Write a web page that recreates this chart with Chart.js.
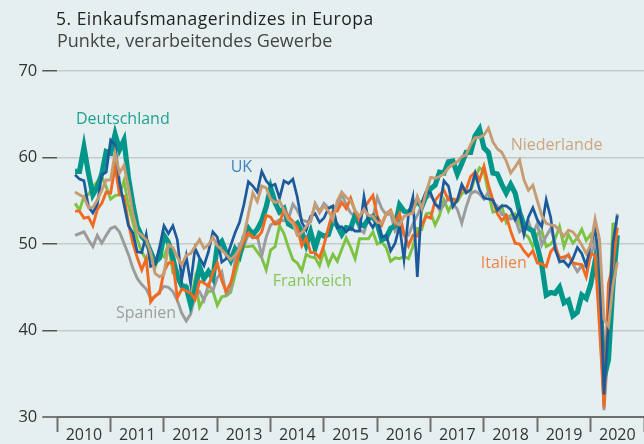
<!DOCTYPE html>
<html lang="de">
<head>
<meta charset="utf-8">
<script src="https://cdn.jsdelivr.net/npm/chart.js@4.4.1/dist/chart.umd.min.js"></script>
<style>
html, body { margin: 0; padding: 0; background: #e6eff0; }
#wrap { position: relative; width: 644px; height: 444px; overflow: hidden; font-family: "Open Sans", sans-serif; }
#title { position: absolute; left: 56px; top: 6px; font-size: 17.5px; letter-spacing: 0.5px; color: #222; white-space: nowrap; }
#sub { position: absolute; left: 57px; top: 28px; font-size: 18px; color: #444; white-space: nowrap; }
#pmi { position: absolute; left: 0; top: 0; }
</style>
</head>
<body>
<div id="wrap">
  <canvas id="pmi" width="644" height="444"></canvas>
  <div id="title">5. Einkaufsmanagerindizes in Europa</div>
  <div id="sub">Punkte, verarbeitendes Gewerbe</div>
</div>
<script>
// Monatswerte Mai 2010 bis Juli 2020
var startYear = 2010;
var startMonth = 4; // Mai (0 = Januar)

var deutschland = [
  58.4, 58.4, 61.2, 58.2, 55.7, 56.6, 58.1, 60.7,
  60.5, 62.7, 60.9, 62.0, 57.7, 54.6, 52.0, 50.9, 50.3, 49.1, 47.9, 48.4,
  51.0, 50.2, 48.4, 46.2, 45.2, 45.0, 43.0, 44.7, 47.4, 46.0, 46.8, 46.0,
  49.8, 50.3, 49.0, 48.1, 49.4, 48.6, 50.7, 51.8, 51.1, 51.7, 52.7, 54.3,
  56.5, 54.8, 53.7, 54.1, 52.3, 52.0, 52.4, 51.4, 49.9, 51.4, 49.5, 51.2,
  50.9, 51.1, 52.8, 52.1, 51.1, 51.9, 51.8, 53.3, 52.3, 52.1, 52.9, 53.2,
  52.3, 50.5, 50.7, 51.8, 52.1, 54.5, 53.8, 53.6, 54.3, 55.0, 54.3, 55.6,
  56.4, 56.8, 58.3, 58.2, 59.5, 59.6, 58.1, 59.3, 60.6, 60.6, 62.5, 63.3,
  61.1, 60.6, 58.2, 58.1, 56.9, 55.9, 56.9, 55.9, 53.7, 52.2, 51.8, 51.5,
  49.7, 47.6, 44.1, 44.4, 44.3, 45.0, 43.2, 43.5, 41.7, 42.1, 44.1, 43.7,
  45.3, 48.0, 45.4, 34.5, 36.6, 45.2, 51.0
];

var uk = [
  58.0, 57.5, 57.3, 54.3, 53.6, 54.6, 58.0, 58.3,
  62.0, 61.5, 57.1, 54.6, 52.1, 51.3, 49.1, 49.0, 51.1, 47.4, 47.6, 49.6,
  52.1, 51.2, 52.1, 50.5, 45.9, 48.6, 45.4, 49.5, 48.4, 47.5, 49.1, 51.4,
  50.8, 47.9, 48.3, 49.8, 51.3, 52.5, 54.6, 57.2, 56.7, 56.0, 58.4, 57.3,
  56.7, 56.9, 55.3, 57.3, 57.0, 57.5, 55.4, 52.5, 51.6, 53.2, 53.5, 52.5,
  53.0, 54.1, 54.4, 51.9, 52.0, 51.4, 51.9, 51.5, 51.5, 55.5, 52.7, 51.9,
  52.9, 50.8, 51.0, 49.2, 50.1, 52.1, 48.2, 53.3, 55.4, 46.2, 54.8, 56.1,
  55.9, 54.6, 54.2, 57.3, 56.7, 54.3, 55.1, 56.9, 55.9, 56.3, 58.2, 56.3,
  55.3, 55.2, 55.1, 53.9, 54.4, 54.4, 54.0, 52.8, 53.8, 51.1, 53.1, 54.2,
  52.8, 52.0, 55.1, 53.1, 49.4, 48.0, 48.0, 47.4, 48.3, 49.6, 48.9, 47.5,
  50.0, 51.7, 47.8, 32.6, 40.7, 50.1, 53.3
];

var niederlande = [
  56.0, 55.7, 55.4, 54.2, 54.2, 55.1, 56.2, 57.4,
  57.4, 60.5, 58.2, 59.1, 56.5, 53.5, 51.4, 51.0, 50.5, 49.0, 46.6, 46.2,
  46.5, 49.9, 49.6, 48.5, 47.6, 48.7, 48.9, 49.7, 50.5, 49.5, 49.9, 50.8,
  49.8, 49.3, 48.8, 48.2, 48.7, 49.5, 51.0, 53.5, 55.9, 54.9, 56.7, 56.5,
  55.2, 54.8, 55.0, 53.9, 52.8, 52.4, 51.0, 51.3, 52.0, 52.8, 54.5, 53.6,
  54.4, 53.8, 52.8, 55.0, 56.0, 55.4, 55.0, 53.9, 53.2, 54.0, 53.3, 53.2,
  52.5, 52.4, 53.5, 53.8, 52.5, 52.2, 53.2, 53.4, 53.6, 55.5, 54.1, 56.0,
  57.7, 57.6, 57.8, 58.1, 58.8, 59.2, 59.5, 60.1, 60.3, 61.5, 62.3, 62.3,
  62.6, 63.4, 61.8, 61.0, 60.6, 59.6, 58.2, 58.9, 59.7, 57.4, 56.2, 56.8,
  55.0, 53.3, 52.4, 52.2, 52.1, 51.5, 50.9, 51.6, 51.4, 50.7, 49.9, 48.9,
  49.9, 52.9, 50.5, 41.3, 40.5, 45.2, 47.9
];

var italien = [
  53.8, 53.8, 53.0, 53.1, 52.1, 54.0, 54.7, 56.0,
  55.9, 59.0, 55.7, 55.5, 52.4, 50.1, 48.4, 47.0, 48.3, 43.3, 44.0, 44.3,
  46.8, 47.8, 47.9, 43.8, 44.8, 44.6, 44.3, 43.6, 45.7, 45.5, 45.1, 46.7,
  47.8, 45.8, 44.5, 45.5, 47.3, 49.1, 50.4, 51.3, 50.8, 50.7, 51.4, 53.3,
  53.1, 52.3, 52.4, 54.0, 53.2, 52.6, 51.9, 49.8, 50.7, 49.0, 49.0, 48.4,
  49.9, 51.9, 53.8, 53.8, 54.8, 54.1, 55.3, 53.8, 52.7, 54.1, 54.9, 55.6,
  53.2, 52.2, 53.5, 53.9, 52.4, 53.5, 51.2, 49.8, 51.0, 50.9, 52.2, 53.2,
  53.0, 55.0, 55.7, 56.2, 55.1, 55.2, 55.1, 56.3, 56.3, 57.8, 58.3, 57.4,
  59.0, 56.8, 55.1, 53.5, 52.7, 53.3, 51.5, 50.1, 50.0, 49.2, 48.6, 49.2,
  47.8, 47.7, 47.4, 49.1, 49.7, 48.4, 48.5, 48.7, 47.8, 47.7, 47.6, 46.2,
  48.9, 48.7, 40.3, 31.1, 45.4, 47.5, 51.9
];

var frankreich = [
  54.7, 53.9, 55.5, 55.7, 56.6, 57.2, 57.8, 56.6,
  55.2, 55.6, 55.7, 57.3, 54.5, 52.5, 50.5, 49.1, 48.2, 48.5, 47.3, 48.9,
  48.5, 50.0, 46.7, 46.9, 44.7, 45.2, 43.4, 46.0, 42.7, 43.7, 44.5, 44.6,
  42.9, 43.9, 44.0, 44.4, 46.4, 48.4, 49.7, 49.7, 49.8, 49.1, 48.4, 47.0,
  49.3, 49.7, 52.1, 51.2, 49.6, 48.2, 47.8, 46.9, 48.8, 48.5, 48.4, 47.5,
  49.2, 47.6, 48.8, 48.0, 49.4, 50.7, 49.6, 48.3, 50.6, 50.6, 50.6, 51.4,
  50.0, 50.2, 49.6, 48.0, 48.4, 48.3, 48.6, 48.3, 49.7, 51.8, 51.7, 53.5,
  53.6, 52.2, 53.3, 55.1, 53.8, 54.8, 54.9, 55.8, 56.1, 56.1, 57.7, 58.8,
  58.4, 55.9, 53.7, 53.8, 54.4, 52.5, 53.3, 53.5, 52.5, 51.2, 50.8, 49.7,
  51.2, 51.5, 49.7, 50.0, 50.6, 52.0, 49.7, 51.1, 50.1, 50.7, 51.7, 50.4,
  51.1, 49.8, 43.2, 31.5, 40.6, 52.3, 52.4
];

var spanien = [
  51.0, 51.2, 51.4, 50.5, 49.7, 51.0, 50.1, 51.0,
  51.8, 52.0, 51.4, 50.1, 48.8, 47.2, 46.0, 45.3, 44.8, 43.7, 43.9, 44.5,
  45.1, 45.0, 44.5, 43.5, 42.0, 41.1, 41.9, 44.0, 44.5, 43.5, 45.3, 44.6,
  46.1, 46.8, 44.2, 44.7, 48.1, 50.0, 49.8, 51.1, 50.7, 50.9, 48.6, 50.8,
  52.2, 52.5, 52.8, 52.7, 52.9, 54.6, 53.9, 52.8, 52.6, 52.6, 54.7, 53.8,
  54.7, 54.2, 54.3, 54.2, 55.8, 54.5, 53.6, 53.2, 51.7, 51.3, 53.1, 53.0,
  55.4, 54.1, 53.4, 53.5, 51.5, 52.2, 51.0, 51.0, 52.3, 53.3, 54.5, 55.3,
  55.6, 54.8, 53.9, 54.5, 55.4, 54.7, 54.0, 52.4, 54.3, 55.8, 56.1, 55.8,
  55.2, 56.0, 54.8, 54.4, 53.4, 53.4, 52.9, 53.0, 51.4, 51.8, 52.6, 51.1,
  52.4, 49.9, 50.9, 51.8, 50.1, 47.9, 48.2, 48.8, 47.7, 46.8, 47.5, 47.4,
  48.5, 50.4, 45.7, 30.8, 38.3, 49.0, 53.5
];

var yearLabels = [2010, 2011, 2012, 2013, 2014, 2015, 2016, 2017, 2018, 2019, 2020];
var yTicks = [30, 40, 50, 60, 70];

var FONT = '"Open Sans", sans-serif';

function toPoints(values) {
  var pts = [];
  for (var k = 0; k < values.length; k++) {
    pts.push({ x: startYear + (startMonth + k) / 12, y: values[k] });
  }
  return pts;
}

// Beschriftungen der Linien (Position in Datenkoordinaten: Jahr, Punkte)
var seriesLabels = [
  { text: 'Deutschland', x: 2010.35, y: 64.4, color: '#1fa192' },
  { text: 'UK', x: 2013.25, y: 58.8, color: '#3c82c0' },
  { text: 'Niederlande', x: 2018.5, y: 61.4, color: '#c9a581' },
  { text: 'Italien', x: 2017.94, y: 47.8, color: '#f08448' },
  { text: 'Frankreich', x: 2014.04, y: 45.7, color: '#86c55a' },
  { text: 'Spanien', x: 2011.1, y: 42.0, color: '#9e9e9e' }
];

var labelPlugin = {
  id: 'seriesLabels',
  afterDatasetsDraw: function(chart) {
    var ctx = chart.ctx;
    var xs = chart.scales.x, ys = chart.scales.y;
    ctx.save();
    ctx.font = '16px ' + FONT;
    ctx.textAlign = 'left';
    ctx.textBaseline = 'middle';
    seriesLabels.forEach(function(l) {
      ctx.fillStyle = l.color;
      ctx.fillText(l.text, xs.getPixelForValue(l.x), ys.getPixelForValue(l.y));
    });
    ctx.restore();
  }
};

function line(label, values, color, width, order) {
  return {
    label: label,
    data: toPoints(values),
    borderColor: color,
    borderWidth: width,
    pointRadius: 0,
    tension: 0,
    fill: false,
    order: order
  };
}

var pmiChart = new Chart(document.getElementById('pmi'), {
  type: 'line',
  data: {
    datasets: [
      line('Niederlande', niederlande, '#c79c72', 2.9, 1),
      line('UK', uk, '#1c5a9c', 2.7, 2),
      line('Italien', italien, '#f26a21', 2.9, 3),
      line('Deutschland', deutschland, '#00978a', 5.2, 4),
      line('Spanien', spanien, '#9b9b9b', 2.9, 5),
      line('Frankreich', frankreich, '#7cc243', 2.9, 6)
    ]
  },
  options: {
    responsive: false,
    animation: false,
    devicePixelRatio: 1,
    layout: { padding: { top: 71, right: 0, bottom: 0, left: 0 } },
    plugins: { legend: { display: false }, tooltip: { enabled: false } },
    scales: {
      x: {
        type: 'linear',
        min: 2010,
        max: 2021,
        afterBuildTicks: function(scale) {
          var t = [];
          yearLabels.forEach(function(y) {
            t.push({ value: y });
            t.push({ value: y + 0.5 });
          });
          t.push({ value: 2021 });
          scale.ticks = t;
        },
        afterFit: function(scale) { scale.height = 27; },
        border: { display: false },
        grid: {
          drawOnChartArea: false,
          tickLength: 15,
          tickWidth: 2,
          tickColor: function(c) {
            return (c.tick && Number.isInteger(c.tick.value)) ? '#6e6e6e' : 'rgba(0,0,0,0)';
          }
        },
        ticks: {
          autoSkip: false,
          maxRotation: 0,
          padding: -6,
          color: '#333',
          font: { size: 16, family: FONT },
          callback: function(v) { return Number.isInteger(v) ? '' : String(Math.floor(v)); }
        }
      },
      y: {
        min: 30,
        max: 70,
        afterBuildTicks: function(scale) {
          scale.ticks = yTicks.map(function(v) { return { value: v }; });
        },
        afterFit: function(scale) { scale.width = 57.3; },
        border: { display: false },
        grid: {
          color: function(c) { return (c.tick && c.tick.value === 30) ? '#6e6e6e' : '#c5cacb'; },
          lineWidth: function(c) { return (c.tick && c.tick.value === 30) ? 2 : 1.5; },
          tickLength: 15,
          tickWidth: 1.5,
          tickColor: '#555'
        },
        ticks: {
          padding: 5,
          color: '#333',
          font: { size: 16.5, family: FONT }
        }
      }
    }
  },
  plugins: [labelPlugin]
});
</script>
</body>
</html>
